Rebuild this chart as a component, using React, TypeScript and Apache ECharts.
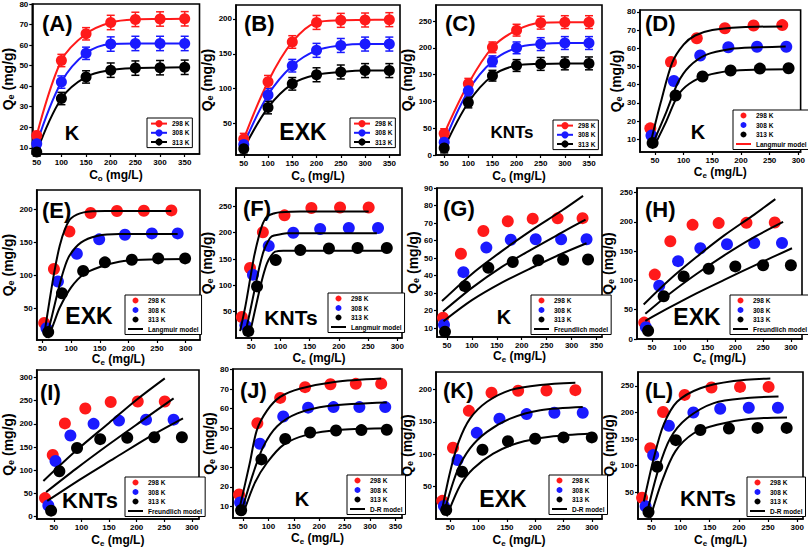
import React, { useEffect, useRef } from "react";
import * as echarts from "echarts";

// ---------------- data ----------------
const C0 = [50, 100, 150, 200, 250, 300, 350];

const K_Q298 = [16, 52.5, 65.5, 71, 72.5, 72.7, 72.8];
const K_Q308 = [12, 42, 56, 60.5, 60.8, 60.8, 60.8];
const K_Q313 = [8, 34, 44.5, 47.8, 48.8, 49, 49.2];
const EXK_Q298 = [28, 110, 167, 195, 198, 198.5, 199];
const EXK_Q308 = [20, 91, 133, 155, 162, 164, 164];
const EXK_Q313 = [14, 73, 107, 120, 124, 126, 126];
const KNTS_Q298 = [40, 133, 201, 233, 247, 248, 248];
const KNTS_Q308 = [24, 120, 175, 200, 207, 209, 209];
const KNTS_Q313 = [13, 98, 148, 167, 170, 171, 171];

const K_ERR = [2, 3, 3, 3.5, 3.5, 3.5, 3.5];
const EXK_ERR = [8, 9, 9, 10, 10, 10, 10];
const KNTS_ERR = [9, 10, 10, 11, 12, 12, 12];

const K_CE298 = [42, 78, 123, 172, 222, 272, 322];
const K_CE308 = [44, 83, 129, 178, 228, 279, 330];
const K_CE313 = [46, 86, 133, 182, 233, 283, 333];
const EXK_CE298 = [36, 55, 83, 123, 170, 220, 271];
const EXK_CE308 = [39, 63, 97, 137, 185, 234, 284];
const EXK_CE313 = [43, 71, 107, 152, 200, 250, 300];
// panel (E) plots the EXK points at these Ce positions
const E_CE298 = [53, 70, 97, 134, 180, 227, 275];
const E_CE308 = [57, 77, 110, 149, 194, 241, 286];
const E_CE313 = [60, 84, 121, 159, 206, 252, 299];
const KNTS_CE298 = [34, 48, 70, 107, 153, 202, 251];
const KNTS_CE308 = [40, 53, 80, 122, 168, 217, 267];
const KNTS_CE313 = [45, 60, 92, 134, 183, 232, 282];

// model curves
const D_L298 = [[44, 10], [60, 30], [80, 52], [100, 62], [120, 67], [150, 70], [200, 71.5], [272, 72]];
const D_L308 = [[47, 8], [70, 25], [90, 41], [110, 50], [140, 56.5], [180, 59.5], [230, 60.5], [278, 61]];
const D_L313 = [[50, 7], [70, 20], [90, 34], [110, 40.5], [140, 45], [180, 47.5], [230, 48.3], [283, 48.5]];

const E_L298 = [[53, 10], [62, 60], [71, 107], [80, 145], [90, 172], [100, 187], [122, 196], [160, 198], [275, 198]];
const E_L308 = [[57, 5], [67, 40], [77, 76], [87, 108], [97, 130], [117, 150], [145, 160], [184, 163], [286, 163]];
const E_L313 = [[60, 5], [70, 28], [80, 51], [100, 82], [122, 102], [150, 113], [184, 121], [224, 124], [303, 125]];

const F_L298 = [[31, 13], [40, 60], [48, 111], [55, 155], [63, 193], [70, 218], [77, 231], [90, 237], [100, 239], [134, 240.5], [251, 240.5]];
const F_L308 = [[40, 10], [48, 50], [57, 98], [64, 135], [71, 164], [78, 182], [85, 193], [100, 197], [111, 199], [265, 199]];
const F_L313 = [[48, 10], [55, 45], [63, 85], [70, 117], [77, 142], [84, 156], [91, 164], [105, 166], [117, 166], [283, 166]];

const G_F298 = [[40, 25.5], [100, 41], [160, 54], [220, 66], [280, 77], [323, 85.5]];
const G_F308 = [[42, 19.5], [100, 33], [160, 45], [220, 55], [280, 64.5], [328, 72]];
const G_F313 = [[43, 14], [100, 26], [160, 36], [220, 44.5], [280, 52.5], [330, 58.5]];

const H_F298 = [[35, 59], [80, 100], [130, 140], [180, 177], [230, 210], [272, 239]];
const H_F308 = [[38, 43], [80, 76], [130, 111], [180, 143], [230, 172], [286, 200]];
const H_F313 = [[38, 31], [80, 53], [130, 78], [180, 101], [240, 128], [302, 155]];

const I_F298 = [[31, 77], [90, 142], [150, 202], [200, 252], [251, 298]];
const I_F308 = [[36, 53], [90, 103], [150, 156], [210, 207], [267, 255]];
const I_F313 = [[38, 34], [100, 82], [160, 126], [220, 170], [284, 212]];

const J_D298 = [[42, 8], [63, 32], [77, 49], [97, 59], [123, 66], [163, 70.3], [230, 73.7], [322, 75.4]];
const J_D308 = [[45, 6], [70, 27], [90, 40.7], [117, 51], [157, 57.6], [217, 61.4], [333, 63.2]];
const J_D313 = [[49, 5.3], [73, 22], [97, 32.3], [130, 41.6], [177, 46.7], [243, 49.2], [340, 50]];

const K_D298 = [[35, 11.5], [50, 73], [65, 119], [85, 155], [115, 181], [156, 199], [209, 207], [271, 210.5]];
const K_D308 = [[38, 6], [62, 73], [85, 109], [115, 134.6], [156, 155], [209, 168], [284, 173]];
const K_D313 = [[44, 4], [68, 52.5], [91, 78], [126, 101], [168, 117], [226, 127], [300, 132]];

const L_D298 = [[37, 33], [54, 114], [71, 177], [94, 220], [134, 245.6], [191, 259], [254, 264]];
const L_D308 = [[43, 14], [62.6, 95.6], [82.6, 152], [111, 189], [157, 217.5], [214, 227], [268, 230]];
const L_D313 = [[48, 2], [68, 70.6], [91, 127], [122.6, 161], [162.6, 177], [220, 188], [282.6, 190.6]];

// tick labels
const TX350 = [50, 100, 150, 200, 250, 300, 350];
const TX300 = [50, 100, 150, 200, 250, 300];
const TY80 = [10, 20, 30, 40, 50, 60, 70, 80];
const TY90 = [10, 20, 30, 40, 50, 60, 70, 80, 90];
const TY200 = [50, 100, 150, 200];
const TY0_250 = [0, 50, 100, 150, 200, 250];
const TY50_250 = [50, 100, 150, 200, 250];
const TY0_300 = [0, 50, 100, 150, 200, 250, 300];

const TEMPS = ["298 K", "308 K", "313 K"];
const COLORS = ["#ff1a1a", "#1a1aff", "#000000"];
const FONT = "Liberation Sans";
const LINE_ICON = "path://M0,0L30,0L30,4L0,4Z";

type Spec = {
  tag: string; label: string; labelSize: number;
  tagPos: number[]; labelPos: number[];
  box: number[]; x: number[]; y: number[];
  xt: number[]; yt: number[]; xSub: string;
  yGap: number; xGap: number; legend: number[];
  q: number[][]; err?: number[]; ce?: number[][]; npts?: number;
  model?: number[][][]; modelName?: string; modelLegendColor?: string;
};

const K_Q = [K_Q298, K_Q308, K_Q313];
const EXK_Q = [EXK_Q298, EXK_Q308, EXK_Q313];
const KNTS_Q = [KNTS_Q298, KNTS_Q308, KNTS_Q313];
const K_CE = [K_CE298, K_CE308, K_CE313];
const EXK_CE = [EXK_CE298, EXK_CE308, EXK_CE313];
const E_CE = [E_CE298, E_CE308, E_CE313];
const KNTS_CE = [KNTS_CE298, KNTS_CE308, KNTS_CE313];

const SPECS: Spec[] = [
  { tag: "(A)", label: "K", labelSize: 20, tagPos: [42, 23], labelPos: [72, 133], box: [30, 4, 199.5, 154], x: [41, 380], y: [7, 80], xt: TX350, yt: TY80, xSub: "o", yGap: 15, xGap: 14, legend: [147, 118], q: K_Q, err: K_ERR },
  { tag: "(B)", label: "EXK", labelSize: 23, tagPos: [244, 23], labelPos: [303, 132], box: [236, 5, 400, 155], x: [34, 372], y: [5, 220], xt: TX350, yt: TY200, xSub: "o", yGap: 21, xGap: 14, legend: [350, 118], q: EXK_Q, err: EXK_ERR },
  { tag: "(C)", label: "KNTs", labelSize: 17, tagPos: [445, 23], labelPos: [512, 132], box: [436, 5, 602, 155], x: [33, 377], y: [0, 280], xt: TX350, yt: TY0_250, xSub: "o", yGap: 21, xGap: 14, legend: [553, 120], q: KNTS_Q, err: KNTS_ERR },
  { tag: "(D)", label: "K", labelSize: 20, tagPos: [645, 23], labelPos: [698, 132], box: [640, 10, 802, 152], x: [24, 304], y: [3, 81], xt: TX300, yt: TY80, xSub: "e", yGap: 10, xGap: 13, legend: [733, 110], q: K_Q, ce: K_CE, npts: 6, model: [D_L298, D_L308, D_L313], modelName: "Langmuir model", modelLegendColor: "#ff1a1a" },
  { tag: "(E)", label: "EXK", labelSize: 23, tagPos: [42, 210], labelPos: [89, 316], box: [32, 190, 200, 340], x: [40, 325], y: [2, 230], xt: TX300, yt: TY200, xSub: "e", yGap: 17, xGap: 12, legend: [125, 295], q: EXK_Q, ce: E_CE, model: [E_L298, E_L308, E_L313], modelName: "Langmuir model" },
  { tag: "(F)", label: "KNTs", labelSize: 21, tagPos: [243, 208], labelPos: [291, 317], box: [236, 188, 402, 338], x: [24, 308], y: [0, 285], xt: TX300, yt: TY50_250, xSub: "e", yGap: 19, xGap: 13, legend: [328, 293], q: KNTS_Q, ce: KNTS_CE, model: [F_L298, F_L308, F_L313], modelName: "Langmuir model" },
  { tag: "(G)", label: "K", labelSize: 20, tagPos: [443, 208], labelPos: [504, 317], box: [437, 188, 602, 337], x: [30, 361], y: [5, 90], xt: TX350, yt: TY90, xSub: "e", yGap: 15, xGap: 12, legend: [531, 295], q: K_Q, ce: K_CE, model: [G_F298, G_F308, G_F313], modelName: "Freundlich model" },
  { tag: "(H)", label: "EXK", labelSize: 23, tagPos: [645, 209], labelPos: [697, 317], box: [637, 188, 802, 339], x: [23, 320], y: [0, 258], xt: TX300, yt: TY0_250, xSub: "e", yGap: 12, xGap: 12, legend: [730, 295], q: EXK_Q, ce: EXK_CE, model: [H_F298, H_F308, H_F313], modelName: "Freundlich model" },
  { tag: "(I)", label: "KNTs", labelSize: 22, tagPos: [40, 392], labelPos: [90, 500], box: [32, 370, 199, 519], x: [19, 313], y: [-5, 316], xt: TX300, yt: TY0_300, xSub: "e", yGap: 18, xGap: 14, legend: [125, 477], q: KNTS_Q, ce: KNTS_CE, model: [I_F298, I_F308, I_F313], modelName: "Freundlich model" },
  { tag: "(J)", label: "K", labelSize: 20, tagPos: [240, 390], labelPos: [302, 499], box: [233, 369, 402, 518], x: [30, 363], y: [4, 80.3], xt: TX350, yt: TY80, xSub: "e", yGap: 16, xGap: 13, legend: [347, 475], q: K_Q, ce: K_CE, model: [J_D298, J_D308, J_D313], modelName: "D-R model" },
  { tag: "(K)", label: "EXK", labelSize: 23, tagPos: [443, 390], labelPos: [503, 499], box: [436, 372, 602, 519], x: [25, 318], y: [0, 227], xt: TX300, yt: TY200, xSub: "e", yGap: 16, xGap: 14, legend: [549, 475], q: EXK_Q, ce: EXK_CE, model: [K_D298, K_D308, K_D313], modelName: "D-R model" },
  { tag: "(L)", label: "KNTs", labelSize: 22, tagPos: [645, 390], labelPos: [708, 498], box: [638, 372, 803, 519], x: [27, 310], y: [0, 276], xt: TX300, yt: TY50_250, xSub: "e", yGap: 16, xGap: 14, legend: [747, 477], q: KNTS_Q, ce: KNTS_CE, model: [L_D298, L_D308, L_D313], modelName: "D-R model" },
];

function buildOption() {
  const grid: any[] = [];
  const xAxis: any[] = [];
  const yAxis: any[] = [];
  const series: any[] = [];
  const legend: any[] = [];
  const graphic: any[] = [];

  SPECS.forEach((s, i) => {
    const [l, t, r, b] = s.box;
    grid.push({ left: l, top: t, width: r - l, height: b - t, show: true, borderColor: "#000", borderWidth: 1.6, backgroundColor: "transparent", containLabel: false });
    const tickStyle = { show: true, inside: false, length: 3, lineStyle: { color: "#000", width: 1.2 } };
    const labelStyle = { fontSize: 8, fontWeight: "bold", color: "#000", fontFamily: FONT };
    xAxis.push({
      type: "value", gridIndex: i, min: s.x[0], max: s.x[1],
      name: `{m|C}{s|${s.xSub}}{m| (mg/L)}`, nameLocation: "middle", nameGap: s.xGap,
      nameTextStyle: { color: "#000", rich: { m: { fontSize: 12, fontWeight: "bold", fontFamily: FONT, lineHeight: 14, color: "#000" }, s: { fontSize: 8, fontWeight: "bold", fontFamily: FONT, lineHeight: 6, verticalAlign: "bottom", color: "#000" } } },
      axisLine: { show: true, onZero: false, lineStyle: { color: "#000", width: 1.6 } },
      axisTick: { ...tickStyle, customValues: s.xt },
      axisLabel: { ...labelStyle, margin: 4, customValues: s.xt },
      splitLine: { show: false },
    });
    yAxis.push({
      type: "value", gridIndex: i, min: s.y[0], max: s.y[1],
      name: "{m|Q}{s|e}{m| (mg/g)}", nameLocation: "middle", nameGap: s.yGap,
      nameTextStyle: { color: "#000", rich: { m: { fontSize: 14, fontWeight: "bold", fontFamily: FONT, lineHeight: 15, color: "#000" }, s: { fontSize: 9, fontWeight: "bold", fontFamily: FONT, lineHeight: 7, verticalAlign: "bottom", color: "#000" } } },
      axisLine: { show: true, onZero: false, lineStyle: { color: "#000", width: 1.6 } },
      axisTick: { ...tickStyle, customValues: s.yt },
      axisLabel: { ...labelStyle, margin: 4, customValues: s.yt },
      splitLine: { show: false },
    });

    if (s.err) {
      for (let k = 0; k < 3; k++) {
        const color = COLORS[k];
        const err = s.err;
        series.push({
          type: "custom", xAxisIndex: i, yAxisIndex: i, silent: true, z: 1,
          data: C0.map((x, j) => [x, s.q[k][j], err[j]]),
          encode: { x: 0, y: 1 },
          renderItem: (params: any, api: any) => {
            const x = api.value(0), y = api.value(1), e = api.value(2);
            const p1 = api.coord([x, y + e]);
            const p2 = api.coord([x, y - e]);
            const w = 4;
            const st = { stroke: color, lineWidth: 1.5 };
            return {
              type: "group", children: [
                { type: "line", shape: { x1: p1[0], y1: p1[1], x2: p2[0], y2: p2[1] }, style: st },
                { type: "line", shape: { x1: p1[0] - w, y1: p1[1], x2: p1[0] + w, y2: p1[1] }, style: st },
                { type: "line", shape: { x1: p2[0] - w, y1: p2[1], x2: p2[0] + w, y2: p2[1] }, style: st },
              ],
            };
          },
        });
        series.push({
          name: TEMPS[k], type: "line", xAxisIndex: i, yAxisIndex: i, z: 2,
          data: C0.map((x, j) => [x, s.q[k][j]]),
          smooth: 0.35, symbol: "circle", symbolSize: 11,
          lineStyle: { color, width: 2 }, itemStyle: { color },
        });
      }
      legend.push({
        orient: "vertical", left: s.legend[0], top: s.legend[1], selectedMode: false,
        data: TEMPS, itemWidth: 16, itemHeight: 9, itemGap: 2,
        textStyle: { fontSize: 6.5, fontWeight: "bold", fontFamily: FONT, color: "#000" },
        borderColor: "#000", borderWidth: 1, padding: [2, 3, 2, 3], backgroundColor: "#fff",
      });
    } else if (s.ce && s.model) {
      const n = s.npts ?? 7;
      for (let k = 0; k < 3; k++) {
        const color = COLORS[k];
        series.push({
          name: TEMPS[k], type: "scatter", xAxisIndex: i, yAxisIndex: i, z: 2,
          data: s.ce[k].slice(0, n).map((x, j) => [x, s.q[k][j]]),
          symbol: "circle", symbolSize: 12, itemStyle: { color, opacity: 1 },
        });
      }
      for (let k = 0; k < 3; k++) {
        series.push({
          name: s.modelName, type: "line", xAxisIndex: i, yAxisIndex: i, z: 3,
          data: s.model[k], smooth: 0.3, symbol: "none",
          lineStyle: { color: "#000", width: 2 }, itemStyle: { color: "#000" },
        });
      }
      const mColor = s.modelLegendColor || "#000";
      legend.push({
        orient: "vertical", left: s.legend[0], top: s.legend[1], selectedMode: false,
        data: [
          ...TEMPS.map((nm, k) => ({ name: nm, icon: "circle", itemStyle: { color: COLORS[k] } })),
          { name: s.modelName, icon: LINE_ICON, itemStyle: { color: mColor } },
        ],
        itemWidth: 15, itemHeight: 6, itemGap: 2.5, symbolKeepAspect: true,
        textStyle: { fontSize: 6.5, fontWeight: "bold", fontFamily: FONT, color: "#000" },
        borderColor: "#000", borderWidth: 1, padding: [2, 3, 2, 3], backgroundColor: "#fff",
      });
    }

    graphic.push({
      type: "text", x: s.tagPos[0], y: s.tagPos[1], z: 10,
      style: { text: s.tag, fontSize: 22, fontWeight: "bold", fontFamily: FONT, fill: "#000", align: "left", verticalAlign: "middle" },
    });
    graphic.push({
      type: "text", x: s.labelPos[0], y: s.labelPos[1], z: 10,
      style: { text: s.label, fontSize: s.labelSize, fontWeight: "bold", fontFamily: FONT, fill: "#000", align: "center", verticalAlign: "middle" },
    });
  });

  return {
    animation: false,
    backgroundColor: "#fff",
    textStyle: { fontFamily: FONT },
    grid, xAxis, yAxis, series, legend, graphic,
  };
}

export default function App() {
  const ref = useRef<HTMLDivElement>(null);
  useEffect(() => {
    if (!ref.current) return;
    const chart = echarts.init(ref.current, undefined, { renderer: "svg" });
    chart.setOption(buildOption());
    return () => chart.dispose();
  }, []);
  return <div ref={ref} style={{ position: "absolute", left: 0, top: 0, width: 808, height: 549, background: "#fff" }} />;
}
